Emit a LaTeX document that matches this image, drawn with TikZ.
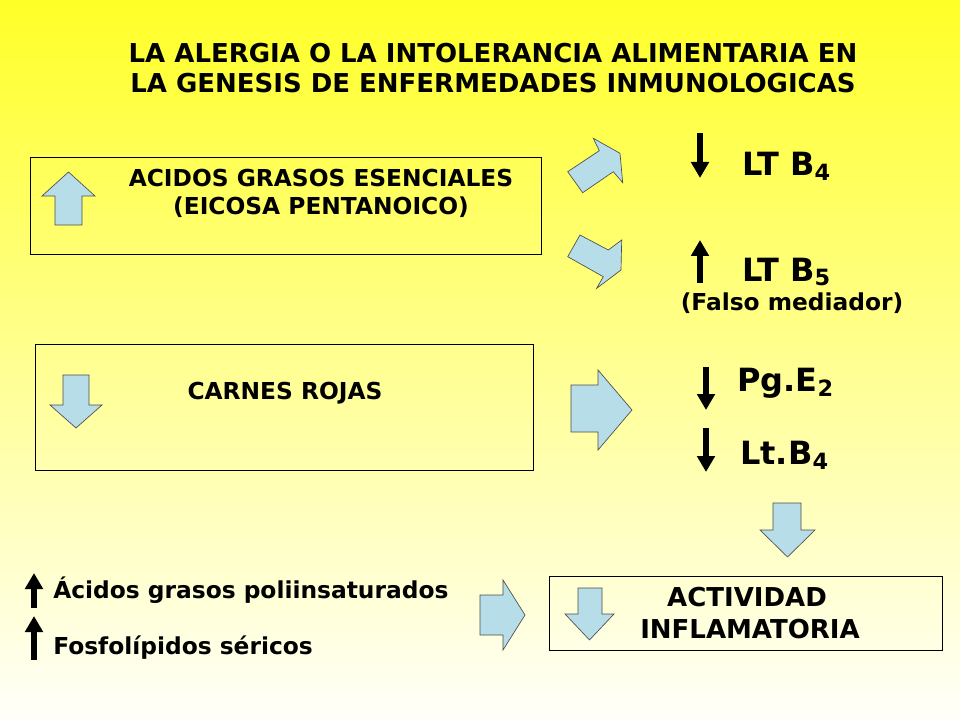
\documentclass[tikz,border=0pt]{standalone}
\usepackage{fontspec}
\setmainfont{DejaVu Sans}
\begin{document}
\begin{tikzpicture}[x=0.75pt,y=-0.75pt,
  blk/.style={draw=black!70,fill=blockc,line width=0.5pt},
  thin/.style={line width=4pt,-{Triangle[width=13pt,length=12pt]}},
  box/.style={draw=black,line width=0.6pt},
  t/.style={font=\bfseries\fontsize{17.5}{19}\selectfont,inner sep=0pt},
  tt/.style={font=\bfseries\fontsize{19.5}{21}\selectfont,inner sep=0pt},
  tb/.style={font=\bfseries\fontsize{24}{26}\selectfont,inner sep=0pt,anchor=west}]
\definecolor{blockc}{RGB}{183,222,232}
\usetikzlibrary{arrows.meta}
\shade[top color={rgb,255:red,255;green,255;blue,40},bottom color={rgb,255:red,255;green,255;blue,250}] (0,0) rectangle (960,720);
\useasboundingbox (0,0) rectangle (960,720);
\node[tt] (t1) at (493,53) {LA ALERGIA O LA INTOLERANCIA ALIMENTARIA EN};
\node[tt] (t2) at (493,83) {LA GENESIS DE ENFERMEDADES INMUNOLOGICAS};
\draw[box] (30,157) rectangle (541,254);
\draw[box] (35,344) rectangle (533,470);
\draw[box] (549,576) rectangle (942,650);
\node[t] (a1) at (321,178) {ACIDOS GRASOS ESENCIALES};
\node[t] (a2) at (321,207) {(EICOSA PENTANOICO)};
\node[t] (cr) at (285,393) {CARNES ROJAS};
\node[tt] (ac1) at (747,597) {ACTIVIDAD};
\node[tt] (ac2) at (750,629) {INFLAMATORIA};
\node[t,anchor=west] (f1) at (53,590) {Ácidos grasos poliinsaturados};
\node[t,anchor=west] (f2) at (53,648) {Fosfolípidos séricos};
\node[t] (fm) at (792,303) {(Falso mediador)};
\node[tb] (l1) at (742,166) {LT B\textsubscript{4}};
\node[tb] (l2) at (742,272) {LT B\textsubscript{5}};
\node[tb] (l3) at (737,383) {Pg.E\textsubscript{2}};
\node[tb] (l4) at (740,455) {Lt.B\textsubscript{4}};
% thin arrows
\coordinate (p1) at (700,133); \coordinate (q1) at (700,178);
\coordinate (p2) at (700,283); \coordinate (q2) at (700,240);
\coordinate (p3) at (706,367); \coordinate (q3) at (706,410);
\coordinate (p4) at (706,428); \coordinate (q4) at (706,472);
\coordinate (p5) at (34,608); \coordinate (q5) at (34,573);
\coordinate (p6) at (34,660); \coordinate (q6) at (34,616);
\foreach \i in {1,...,6} \draw[thin] (p\i) -- (q\i);
% block arrows
\draw[blk] (55,225) -- (55,196) -- (42,196) -- (68.5,172) -- (95,196) -- (82,196) -- (82,225) -- cycle;
\draw[blk] (63,375) -- (63,405) -- (50,405) -- (76,428) -- (102,405) -- (89,405) -- (89,375) -- cycle;
\draw[blk] (578,588) -- (578,614) -- (565,614) -- (589.5,640) -- (614,614) -- (602,614) -- (602,588) -- cycle;
\draw[blk] (773,503) -- (773,530) -- (760,530) -- (787.5,557) -- (815,530) -- (801,530) -- (801,503) -- cycle;
\draw[blk] (571,385) -- (598,385) -- (598,370) -- (632,410) -- (598,450) -- (598,432) -- (571,432) -- cycle;
\draw[blk] (480,595) -- (503,595) -- (503,580) -- (525,615) -- (503,650) -- (503,635) -- (480,635) -- cycle;
\draw[blk] (567.7,171.7) -- (599.3,150.7) -- (593.3,138.3) -- (620,153.3) -- (622.7,182.7) -- (613.3,171.7) -- (582.7,192.7) -- cycle;
\draw[blk] (567.7,256.7) -- (580,235) -- (608.3,250) -- (621.7,240) -- (621,270) -- (596.7,288.3) -- (603.3,276.7) -- cycle;
\end{tikzpicture}
\end{document}
